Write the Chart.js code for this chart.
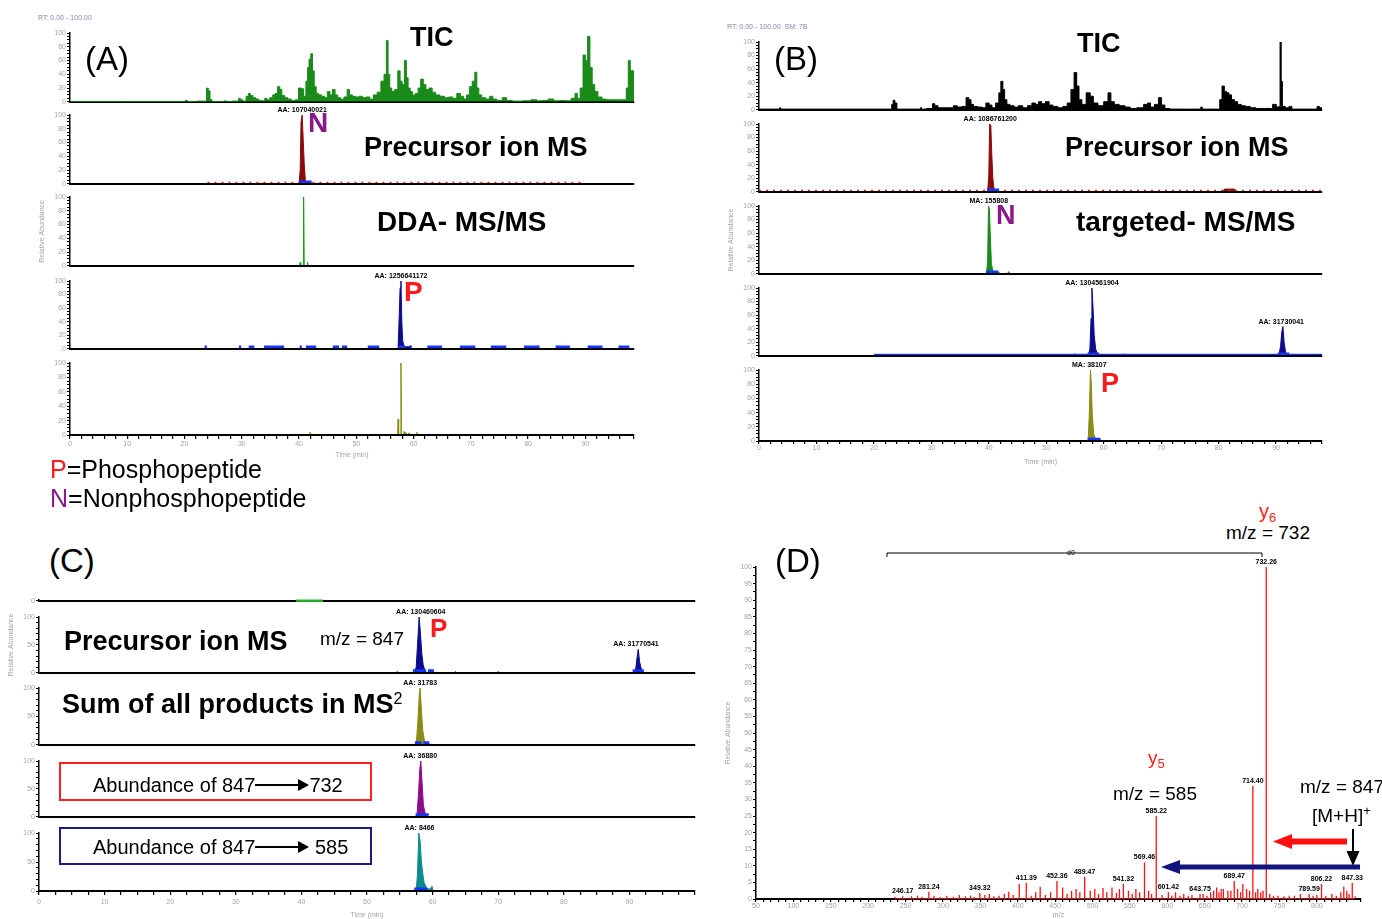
<!DOCTYPE html>
<html><head><meta charset="utf-8">
<script src="https://cdn.jsdelivr.net/npm/chart.js@4.4.0/dist/chart.umd.min.js"></script>
<style>
html,body{margin:0;padding:0;background:#fff;}
#page{position:relative;width:1382px;height:919px;overflow:hidden;background:#fff;font-family:'Liberation Sans',Arial,sans-serif;}
.t{position:absolute;white-space:nowrap;line-height:1;color:#000;z-index:3;}
.b{font-weight:bold;}
.sm{font-size:7px;color:#8888aa;}
.box{position:absolute;box-sizing:border-box;z-index:3;}
.up{position:relative;top:-0.55em;vertical-align:baseline;}
.dn{position:relative;top:0.3em;vertical-align:baseline;}
.arr{display:inline-block;position:relative;width:43px;height:2px;background:#000;vertical-align:6px;margin-right:11px;}
.arr::after{content:'';position:absolute;right:-11px;top:-5px;border-left:11px solid #000;border-top:6px solid transparent;border-bottom:6px solid transparent;}
canvas{position:absolute;z-index:1;}
svg{position:absolute;left:0;top:0;z-index:4;}
</style></head>
<body><div id="page">
<!-- Panel A -->
<div class="t sm" style="left:38px;top:14px">RT: 0.00 - 100.00</div>
<div class="t" style="left:85px;top:42px;font-size:33px">(A)</div>
<div class="t b" style="left:410px;top:24px;font-size:27px">TIC</div>
<div class="t b" style="left:308px;top:109px;font-size:28px;color:#8a1a8a">N</div>
<div class="t b" style="left:364px;top:134px;font-size:27px">Precursor ion MS</div>
<div class="t b" style="left:377px;top:208px;font-size:28px">DDA- MS/MS</div>
<div class="t b" style="left:404px;top:278px;font-size:28px;color:#ff1a1a">P</div>
<div class="t" style="left:50px;top:457px;font-size:25px"><span style="color:#ff1a1a">P</span>=Phosphopeptide</div>
<div class="t" style="left:50px;top:486px;font-size:25px"><span style="color:#8a1a8a">N</span>=Nonphosphopeptide</div>
<!-- Panel B -->
<div class="t sm" style="left:727px;top:23px">RT: 0.00 - 100.00 &nbsp;SM: 7B</div>
<div class="t" style="left:774px;top:42px;font-size:33px">(B)</div>
<div class="t b" style="left:1077px;top:30px;font-size:27px">TIC</div>
<div class="t b" style="left:1065px;top:134px;font-size:27px">Precursor ion MS</div>
<div class="t b" style="left:996px;top:202px;font-size:27px;color:#8a1a8a">N</div>
<div class="t b" style="left:1076px;top:208px;font-size:28px">targeted- MS/MS</div>
<div class="t b" style="left:1101px;top:370px;font-size:27px;color:#ff1a1a">P</div>
<!-- Panel C -->
<div class="t" style="left:49px;top:544px;font-size:33px">(C)</div>
<div class="t b" style="left:64px;top:628px;font-size:27px">Precursor ion MS</div>
<div class="t" style="left:320px;top:629px;font-size:19px">m/z = 847</div>
<div class="t b" style="left:430px;top:615px;font-size:26px;color:#ff1a1a">P</div>
<div class="t b" style="left:62px;top:691px;font-size:27px">Sum of all products in MS<span class="up" style="font-size:16px;font-weight:normal">2</span></div>
<div class="box" style="left:59px;top:762px;width:313px;height:39px;border:2px solid #ff2020"></div>
<div class="t" style="left:93px;top:775px;font-size:20px">Abundance of 847<span class="arr"></span>732</div>
<div class="box" style="left:59px;top:827px;width:313px;height:38px;border:2px solid #1a1a8a"></div>
<div class="t" style="left:93px;top:837px;font-size:20px">Abundance of 847<span class="arr"></span> 585</div>
<!-- Panel D -->
<div class="t" style="left:775px;top:544px;font-size:33px">(D)</div>
<div class="t" style="left:1259px;top:501px;font-size:20px;color:#ff2020">y<span class="dn" style="font-size:13px">6</span></div>
<div class="t" style="left:1226px;top:523px;font-size:19px">m/z = 732</div>
<div class="t" style="left:1148px;top:748px;font-size:19px;color:#ff2020">y<span class="dn" style="font-size:13px">5</span></div>
<div class="t" style="left:1113px;top:784px;font-size:19px">m/z = 585</div>
<div class="t" style="left:1300px;top:777px;font-size:19px">m/z = 847</div>
<div class="t" style="left:1312px;top:806px;font-size:19px">[M+H]<span class="up" style="font-size:13px">+</span></div>
<div class="t" style="left:1066px;top:549px;font-size:7px;background:#fff;padding:0 1px">d0</div>
<svg width="1382" height="919">
  <path d="M887,557 L887,553 L1262,553 L1262,557" fill="none" stroke="#000" stroke-width="1"/>
  <line x1="1347" y1="841.5" x2="1290" y2="841.5" stroke="#ff1010" stroke-width="6"/>
  <polygon points="1273,841.5 1292,834 1292,849" fill="#ff1010"/>
  <line x1="1353" y1="829" x2="1353" y2="853" stroke="#000" stroke-width="2"/>
  <polygon points="1353,866 1346.5,851 1359.5,851" fill="#000"/>
  <line x1="1360" y1="867" x2="1178" y2="867" stroke="#14147e" stroke-width="5"/>
  <polygon points="1161,867 1180,860 1180,874" fill="#14147e"/>
</svg>
</div>
<script>
// ---------------- DATA ----------------
// Panel A (DDA run) chromatograms: [time (min), relative abundance]
const ticA = [[0,0.5],[20,0.5],[20.3,2],[20.7,0.5],[23.7,1],[24.0,20],[24.3,16],[24.6,3],[25,0.5],[27,0.5],[27.1,2],[27.3,0.5],[29.3,1],[29.6,5],[29.9,3],[30.5,1],[31,8],[31.3,12],[31.7,9],[32.2,6],[32.7,4],[33.2,2],[33.8,1.5],[34.2,5],[34.6,3],[35.2,6],[35.6,10],[36.0,12],[36.5,22],[36.8,18],[37.2,9],[37.8,6],[38.3,4],[39,2],[39.7,3],[40.1,20],[40.6,19],[41,8],[41.4,30],[41.6,50],[41.9,62],[42.2,70],[42.5,45],[42.8,22],[43.2,12],[43.7,10],[44.2,8],[44.7,6],[45.2,15],[45.6,10],[46.1,18],[46.5,10],[47,6],[47.5,4],[48.2,7],[48.6,18],[49,10],[49.6,8],[50.2,7],[50.8,8],[51.4,6],[52,7],[52.7,4],[53.3,10],[54,14],[54.6,30],[55.1,40],[55.4,89],[55.7,40],[56,20],[56.4,15],[57,18],[57.5,45],[57.8,30],[58.2,25],[58.6,60],[58.9,35],[59.2,20],[59.6,15],[60,10],[60.6,12],[61,20],[61.5,33],[61.9,25],[62.4,18],[63,20],[63.5,14],[64.2,10],[65,8],[65.8,6],[66.5,7],[67.2,5],[67.9,12],[68.5,8],[69,4],[69.5,10],[70,22],[70.5,30],[70.9,43],[71.2,20],[71.6,10],[72.2,6],[73,4],[73.6,8],[74.1,4],[75,2],[76,6],[76.5,2],[78,1],[80,1.5],[81,3],[82,1.5],[83,2],[84,4],[85,1.5],[86,2],[87,1.5],[88,5],[88.4,12],[88.8,5],[89.4,20],[89.8,68],[90.2,60],[90.6,95],[91,50],[91.4,25],[91.9,15],[92.5,7],[93.3,4],[94,3],[95,3],[96,3],[97,3],[97.3,20],[97.7,60],[98,45],[98.5,45]];
const precA = [[0,0],[40.0,0],[40.2,20],[40.35,90],[40.55,100],[40.75,60],[40.9,30],[41.1,5],[41.4,0],[98.5,0]];
const ddaA = [[0,0],[40.1,0],[40.2,5],[40.3,0],[40.7,0],[40.8,100],[40.9,0],[41.4,0],[41.5,5],[41.6,0],[98.5,0]];
const xicA = [[0,0],[23.8,0],[23.9,1.5],[24.0,0],[57.3,0],[57.5,50],[57.65,90],[57.8,100],[57.95,40],[58.1,12],[58.3,5],[58.6,3],[59.3,3],[59.6,0],[98.5,0]];
const msmsA = [[0,0],[41.8,0],[41.9,4],[42.0,0],[57.2,0],[57.3,22],[57.4,0],[57.7,0],[57.8,100],[57.9,0],[58.2,0],[58.3,5],[58.5,3],[58.7,3],[58.9,0],[59.2,3],[59.4,0],[60.5,0],[60.6,4],[60.7,0],[98.5,0]];
const markA_prec = [[40.0,42.2]];
const markA_xic = [[23.5,23.9],[29.5,29.9],[31.2,32.2],[33.9,37.4],[40.1,40.5],[41.2,43.0],[45.9,47.0],[47.5,48.4],[52.0,54.0],[57.4,58.5],[59.2,59.7],[62.4,65.0],[68.1,70.8],[73.5,76.2],[79.3,82.0],[84.8,87.3],[90.4,93.0],[95.8,97.7]];
const labelsA_prec = [{x:40.55,y:100,t:'AA: 107040021'}];
const labelsA_xic = [{x:57.8,y:100,t:'AA: 1256641172'}];

// Panel B (targeted run)
const ticB = [[0,1],[3.5,1],[3.7,3],[3.9,1],[23,1],[23.2,8],[23.5,14],[23.8,10],[24.2,1],[28,1],[28.2,3],[28.4,1],[30,2],[30.4,9],[30.8,6],[31.5,3],[33.5,3],[34.2,6],[34.8,4],[35.8,5],[36.3,18],[36.7,15],[37.1,8],[37.6,5],[38.5,4],[39.2,3],[39.8,10],[40.3,7],[40.8,3],[41.6,10],[41.9,25],[42.3,42],[42.6,30],[42.9,15],[43.4,8],[44,6],[44.8,4],[45.5,6],[46.3,3],[47.2,6],[47.8,10],[48.4,8],[48.9,12],[49.5,9],[50.2,12],[50.8,7],[51.5,5],[52.5,3],[53.3,5],[54,10],[54.6,30],[55.1,55],[55.5,35],[55.9,15],[56.5,8],[57.4,25],[57.9,20],[58.5,10],[59.5,6],[60.5,12],[61,25],[61.5,12],[62.2,8],[63.2,6],[64.2,4],[65,2],[66.5,3],[67.4,8],[67.9,10],[68.4,4],[69.3,8],[69.8,18],[70.3,7],[71,2],[72,1],[76.8,1],[77,4],[77.3,1],[80,1],[80.4,15],[80.8,35],[81.2,27],[81.6,25],[82,22],[82.5,15],[83,12],[83.6,8],[84.3,6],[85,5],[86,3],[87,2],[89,2],[89.8,8],[90.3,4],[90.6,5],[90.8,100],[91.0,42],[91.2,5],[92,3],[92.5,5],[93,1],[97,1],[97.3,5],[97.8,3],[98,3]];
const precB = [[0,0],[39.8,0],[40.0,25],[40.15,100],[40.35,98],[40.5,60],[40.7,20],[40.9,5],[41.2,0],[80.8,0],[81.0,4],[82.8,4],[83.0,0],[98,0]];
const targB = [[0,0],[39.6,0],[39.8,20],[39.95,100],[40.1,95],[40.25,60],[40.45,15],[40.7,5],[41.0,2],[41.8,2],[42.0,0],[43.3,0],[43.4,3],[43.5,0],[98,0]];
const xicB = [[0,0],[54.9,0],[55.0,3],[55.1,0],[57.3,0],[57.6,10],[57.8,55],[57.95,100],[58.15,70],[58.35,30],[58.6,10],[58.9,3],[59.3,0],[63.3,0],[63.5,3],[63.7,0],[90.5,0],[90.8,15],[91.0,35],[91.2,43],[91.4,20],[91.7,3],[92.0,0],[98,0]];
const msmsB = [[0,0],[57.3,0],[57.5,40],[57.7,100],[57.85,80],[58.0,40],[58.25,10],[58.6,3],[59.4,3],[59.6,0],[98,0]];
const markB_prec = [[39.8,41.8]];
const markB_targ = [[39.5,41.7]];
const markB_xic = [[57.2,59.2],[90.3,92.3]];
const markB_msms = [[57.2,59.4]];
const labelsB_prec = [{x:40.25,y:100,t:'AA: 1086761200'}];
const labelsB_targ = [{x:40.0,y:100,t:'MA: 155808'}];
const labelsB_xic = [{x:57.95,y:100,t:'AA: 1304561904'},{x:90.9,y:43,t:'AA: 31730041'}];
const labelsB_msms = [{x:57.5,y:100,t:'MA: 38107'}];

// Panel C (extraction of m/z 847)
const topC = [[39.2,0],[43.3,0]];
const precC = [[0,0],[54.4,0],[54.6,2],[54.8,0],[57.2,0],[57.5,10],[57.75,60],[57.95,100],[58.15,70],[58.35,35],[58.55,15],[58.85,3],[59.2,0],[63.3,0],[63.5,2],[63.7,0],[69.8,0],[70.0,2],[70.2,0],[90.8,0],[91.0,10],[91.2,30],[91.35,42],[91.55,20],[91.85,5],[92.2,0],[100,0]];
const sumC = [[0,0],[57.5,0],[57.75,40],[57.95,85],[58.1,100],[58.3,60],[58.5,25],[58.8,5],[59.3,2],[60.0,0],[100,0]];
const y6C = [[0,0],[57.6,0],[57.85,40],[58.05,85],[58.2,100],[58.4,60],[58.6,20],[58.9,5],[59.4,0],[100,0]];
const y5C = [[0,0],[57.5,0],[57.7,30],[57.9,100],[58.1,85],[58.3,50],[58.5,30],[58.7,15],[59.1,5],[59.6,3],[59.9,8],[60.1,0],[100,0]];
const markC_prec = [[57.0,59.0],[59.3,60.2],[90.5,92.2]];
const markC_sum = [[57.3,58.3],[58.6,59.5]];
const markC_y6 = [[57.4,59.4]];
const markC_y5 = [[57.2,59.2]];
const labelsC_prec = [{x:58.2,y:100,t:'AA: 130460604'},{x:91.0,y:42,t:'AA: 31770541'}];
const labelsC_sum = [{x:58.1,y:100,t:'AA: 31783'}];
const labelsC_y6 = [{x:58.1,y:100,t:'AA: 36880'}];
const labelsC_y5 = [{x:58.0,y:100,t:'AA: 8466'}];

// Panel D (MS/MS spectrum of m/z 847)
const dPeakMz  = [246.2, 281.2, 349.3, 411.4, 452.4, 489.5, 541.3, 569.5, 585.2, 601.4, 643.8, 689.5, 714.4, 732.3, 789.6, 806.2, 847.3];
const dPeakInt = [0.8,   2.2,   1.8,   4.9,   5.4,   6.7,   4.5,   11,    25,    2,     1.5,   5.4,   34,    100,   1.5,   4.5,   4.8];
const dPeakLbl = ['246.17','281.24','349.32','411.39','452.36','489.47','541.32','569.46','585.22','601.42','643.75','689.47','714.40','732.26','789.59','806.22','847.33'];
const dMinorMz  = [236,258,266,272,288,296,305,314,322,330,337,342,356,362,368,375,382,388,394,402,418,424,430,437,444,460,466,472,478,483,497,503,508,514,519,526,532,536,548,553,558,563,575,579,593,606,611,617,622,628,633,648,653,658,662,666,669,672,675,681,685,694,698,701,706,710,718,721,725,728,737,742,748,756,763,770,778,795,800,812,820,826,832,836,840,843,851];
const dMinorInt = [0.6,0.8,1.0,0.7,1.0,0.6,1.0,0.7,1.2,0.8,1.0,0.6,1.2,1.5,0.8,1.0,1.5,2.2,1.2,4.5,1.0,2.0,3.7,1.2,2.0,3.5,1.5,2.5,3.0,2.0,2.5,3.0,1.5,3.3,2.0,3.5,1.8,3.0,2.5,1.5,3.0,2.0,2.5,1.5,1.2,1.0,2.0,1.0,1.5,1.0,1.2,1.5,1.0,2.0,2.5,3.5,2.0,3.0,3.0,2.5,2.5,3.0,2.0,4.5,3.0,2.5,2.0,3.0,2.0,2.5,1.5,1.0,1.0,0.8,1.0,1.0,1.5,1.0,1.2,1.0,1.5,1.0,2.0,3.7,2.5,1.5,0.8];

// Axis tick labels
const timeLabels = [0,10,20,30,40,50,60,70,80,90];
const pctLabels20 = [0,20,40,60,80,100];
const pctLabels50 = [0,50,100];
const mzLabels = [50,100,150,200,250,300,350,400,450,500,550,600,650,700,750,800];
const pctLabels5 = [0,5,10,15,20,25,30,35,40,45,50,55,60,65,70,75,80,85,90,95,100];

// ---------------- DRAWING ----------------
const FAM = "'Liberation Sans', Arial, sans-serif";
const GREY = '#a3a3a3';
const YW = 32, PT = 10, PR = 8;

Chart.register({
  id: 'pk',
  afterDatasetsDraw(chart, args, opts) {
    const items = (opts && opts.items) || [];
    const ctx = chart.ctx;
    ctx.save();
    ctx.font = 'bold 7px ' + FAM;
    ctx.fillStyle = '#000';
    ctx.textAlign = 'center';
    ctx.textBaseline = 'bottom';
    items.forEach(it => {
      const x = chart.scales.x.getPixelForValue(it.x);
      const y = chart.scales.y.getPixelForValue(it.y);
      ctx.fillText(it.t, x, y - 1.5);
    });
    ctx.restore();
  }
});

const toPts = pairs => pairs.map(p => ({x: p[0], y: p[1]}));
const has = (arr, v) => arr.some(L => Math.abs(L - v) < 1e-6);

function fillTrace(pairs, color, extra) {
  return Object.assign({data: toPts(pairs), borderColor: color, backgroundColor: color, borderWidth: 1,
    fill: 'origin', pointRadius: 0, tension: 0}, extra || {});
}
function markTrace(list, color, y, w) {
  const d = [];
  list.forEach(s => { d.push({x: s[0], y: y}, {x: s[1], y: y}, {x: s[1], y: null}); });
  return {data: d, borderColor: color, backgroundColor: color, borderWidth: w || 3, fill: false, pointRadius: 0, spanGaps: false};
}
function dashTrace(a, b, color, y) {
  return {data: [{x: a, y: y}, {x: b, y: y}], borderColor: color, borderWidth: 1.5, borderDash: [2, 5], fill: false, pointRadius: 0};
}

function mk(r, o) {
  const c = document.createElement('canvas');
  const xh = o.xh || 2;
  const W = r.w + YW + PR, H = r.h + PT + xh;
  c.width = W; c.height = H;
  c.style.left = (r.l - YW) + 'px'; c.style.top = (r.t - PT) + 'px';
  c.style.width = W + 'px'; c.style.height = H + 'px';
  document.getElementById('page').appendChild(c);
  const bottom = !!o.bottom;
  new Chart(c, {
    type: 'line',
    data: {datasets: o.datasets},
    options: {
      responsive: false, animation: false, devicePixelRatio: 1,
      layout: {padding: {left: 0, top: PT, right: PR, bottom: 0}},
      plugins: {legend: {display: false}, tooltip: {enabled: false}, pk: {items: o.labels || []}},
      scales: {
        x: {type: 'linear', min: o.xmin || 0, max: o.xmax,
          afterFit: s => { s.height = xh; },
          border: {display: true, color: '#000', width: 2, z: (o.axisOnTop ? 1 : 0)},
          grid: {display: bottom, drawOnChartArea: false, drawTicks: true, tickLength: o.tl || 4, color: '#000', lineWidth: 1.2},
          ticks: {display: bottom, stepSize: o.xstep || 2, autoSkip: false, maxRotation: 0, minRotation: 0,
            padding: (o.tp === undefined ? 1 : o.tp), font: {size: 7, family: FAM}, color: GREY,
            callback: v => has(o.xlabels || [], v) ? String(Math.round(v)) : ''},
          title: {display: !!o.xtitle, text: o.xtitle || '', font: {size: 7, family: FAM}, color: GREY, padding: 0}
        },
        y: {min: 0, max: o.ymax || 100,
          afterFit: s => { s.width = YW; },
          border: {display: true, color: '#000', width: 1.5},
          grid: {drawOnChartArea: false, drawTicks: true, tickLength: 3, color: '#000', lineWidth: 1},
          ticks: {stepSize: o.ystep || 5, autoSkip: false, padding: 1, font: {size: 7, family: FAM}, color: GREY,
            callback: v => has(o.ylabels || pctLabels20, v) ? String(Math.round(v)) : ''},
          title: {display: !!o.ytitle, text: o.ytitle || '', font: {size: 7, family: FAM}, color: GREY, padding: 0}
        }
      }
    }
  });
}

// Colours
const C_GREEN = '#1a8a1a', C_DRED = '#8c0c0c', C_LGREEN = '#12a012', C_NAVY = '#0c0c8c',
      C_OLIVE = '#8c8c14', C_PURPLE = '#8c0c8c', C_TEAL = '#0c8c8c', C_MARK = '#1535ff', C_RED = '#ff1a1a';

// ---- Panel A ----
const AL = 70, AW = 564, AX = 98.5;
mk({l: AL, t: 33, w: AW, h: 72}, {xmax: AX, datasets: [fillTrace(ticA, C_GREEN, {stepped: 'middle'})]});
mk({l: AL, t: 115, w: AW, h: 72}, {xmax: AX, labels: labelsA_prec, axisOnTop: true,
  datasets: [markTrace(markA_prec, C_MARK, 2.5, 3), dashTrace(24, 90, C_RED, 2), fillTrace(precA, C_DRED)]});
mk({l: AL, t: 197, w: AW, h: 72}, {xmax: AX, ytitle: 'Relative Abundance', axisOnTop: true, datasets: [fillTrace(ddaA, C_LGREEN)]});
mk({l: AL, t: 281, w: AW, h: 71}, {xmax: AX, labels: labelsA_xic, axisOnTop: true,
  datasets: [markTrace(markA_xic, C_MARK, 2.5, 3), fillTrace(xicA, C_NAVY)]});
mk({l: AL, t: 363, w: AW, h: 72}, {xmax: AX, bottom: true, xh: 24, tl: 4, tp: 1, xstep: 2, xlabels: timeLabels,
  xtitle: 'Time (min)', axisOnTop: true, datasets: [fillTrace(msmsA, C_OLIVE)]});

// ---- Panel B ----
const BL = 759, BW = 563, BX = 98;
mk({l: BL, t: 42, w: BW, h: 71}, {xmax: BX, datasets: [fillTrace(ticB, '#000', {stepped: 'middle'})]});
mk({l: BL, t: 124, w: BW, h: 71}, {xmax: BX, labels: labelsB_prec, axisOnTop: true,
  datasets: [markTrace(markB_prec, C_MARK, 2.5, 3), dashTrace(0, 98, C_RED, 2), fillTrace(precB, C_DRED)]});
mk({l: BL, t: 206, w: BW, h: 71}, {xmax: BX, ytitle: 'Relative Abundance', labels: labelsB_targ, axisOnTop: true,
  datasets: [markTrace(markB_targ, C_MARK, 2.5, 3), fillTrace(targB, C_GREEN)]});
mk({l: BL, t: 288, w: BW, h: 71}, {xmax: BX, labels: labelsB_xic, axisOnTop: true,
  datasets: [markTrace(markB_xic, C_MARK, 2.5, 3), markTrace([[20, 98]], C_MARK, 2, 1.2), fillTrace(xicB, C_NAVY)]});
mk({l: BL, t: 370, w: BW, h: 71}, {xmax: BX, bottom: true, xh: 25, tl: 3, tp: 0, xstep: 2, xlabels: timeLabels,
  xtitle: 'Time (min)', labels: labelsB_msms, axisOnTop: true,
  datasets: [markTrace(markB_msms, C_MARK, 2.5, 3), fillTrace(msmsB, C_OLIVE)]});

// ---- Panel C ----
const CL = 39, CW = 656, CX = 100;
mk({l: CL, t: 600, w: CW, h: 4}, {xmax: CX, ymax: 1, ystep: 1, ylabels: [0],
  datasets: [{data: toPts(topC), borderColor: '#22aa22', borderWidth: 2.5, fill: false, pointRadius: 0, clip: false}]});
mk({l: CL, t: 617, w: CW, h: 59}, {xmax: CX, ystep: 10, ylabels: pctLabels50, ytitle: 'Relative Abundance', labels: labelsC_prec, axisOnTop: true,
  datasets: [markTrace(markC_prec, C_MARK, 3.5, 3), fillTrace(precC, C_NAVY)]});
mk({l: CL, t: 688, w: CW, h: 60}, {xmax: CX, ystep: 10, ylabels: pctLabels50, labels: labelsC_sum, axisOnTop: true,
  datasets: [markTrace(markC_sum, C_MARK, 3.5, 3), fillTrace(sumC, C_OLIVE)]});
mk({l: CL, t: 761, w: CW, h: 59}, {xmax: CX, ystep: 10, ylabels: pctLabels50, labels: labelsC_y6, axisOnTop: true,
  datasets: [markTrace(markC_y6, C_MARK, 3.5, 3), fillTrace(y6C, C_PURPLE)]});
mk({l: CL, t: 833, w: CW, h: 58}, {xmax: CX, ystep: 10, ylabels: pctLabels50, labels: labelsC_y5, axisOnTop: true,
  bottom: true, xh: 28, tl: 4, tp: 3, xstep: 2.5, xlabels: timeLabels, xtitle: 'Time (min)',
  datasets: [markTrace(markC_y5, C_MARK, 3.5, 3), fillTrace(y5C, C_TEAL)]});

// ---- Panel D ----
const allPeaks = dPeakMz.map((m, k) => [m, dPeakInt[k]]).concat(dMinorMz.map((m, k) => [m, dMinorInt[k]]))
  .sort((a, b) => a[0] - b[0]);
const sticks = [];
allPeaks.forEach(p => { sticks.push([p[0], 0], [p[0], p[1]], [p[0], 0]); });
const dLabels = dPeakMz.map((m, k) => ({x: m, y: dPeakInt[k], t: dPeakLbl[k]}));
mk({l: 756, t: 567, w: 605, h: 332}, {xmin: 50, xmax: 859, bottom: true, xh: 20, tl: 3, tp: 0, xstep: 10, xlabels: mzLabels,
  xtitle: 'm/z', ystep: 2.5, ylabels: pctLabels5, ytitle: 'Relative Abundance', labels: dLabels,
  datasets: [{data: toPts(sticks), borderColor: '#ff1010', borderWidth: 1.3, fill: false, pointRadius: 0, tension: 0}]});
</script>
</body></html>
